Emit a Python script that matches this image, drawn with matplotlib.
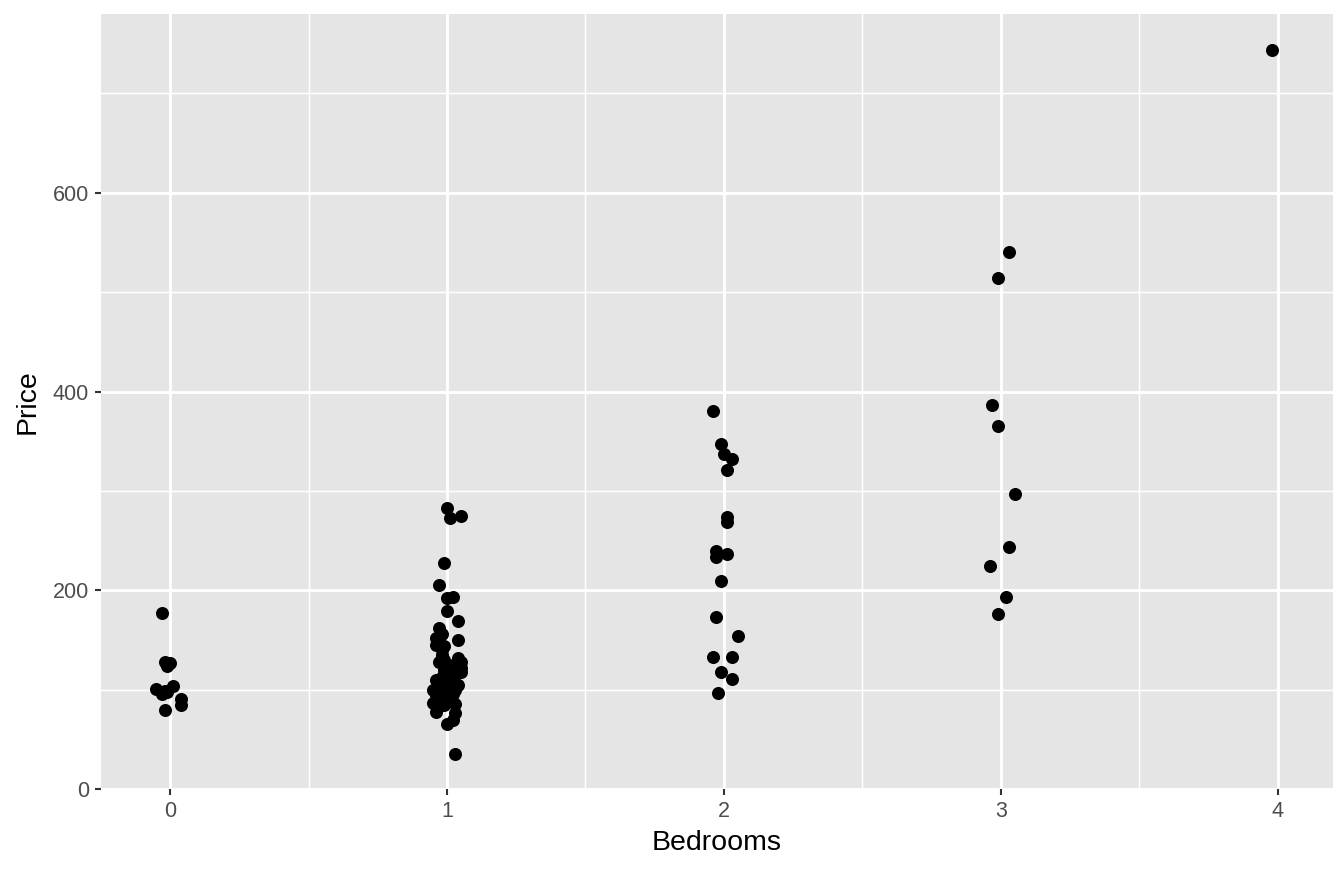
import matplotlib
matplotlib.use("Agg")
import matplotlib.pyplot as plt
import numpy as np

# bedrooms (with jitter as seen on the chart) and price
bed0_x = [-0.03, -0.02, 0.0, -0.01, -0.05, -0.02, -0.03, 0.01, 0.04, 0.04, -0.02, -0.01]
bed0_y = [177, 128, 127, 124, 101, 99, 96, 104, 91, 85, 80, 98]

bed1_x = [1.00, 1.01, 1.05, 0.99, 0.97, 1.00, 1.02, 1.04, 1.00, 0.97, 0.98, 0.96,
          0.96, 1.04, 0.99, 0.98, 0.99, 1.04, 1.05, 0.97, 1.05, 0.99, 1.01, 1.05,
          0.96, 1.04, 1.01, 0.95, 0.96, 1.01, 0.95, 0.99, 0.96, 1.03, 1.02, 1.00,
          1.03, 0.98, 1.00, 1.02, 0.99, 1.03, 0.97, 1.02, 0.98, 1.01, 0.97, 1.03,
          0.99, 1.02, 1.00, 0.98, 1.03]
bed1_y = [283, 273, 275, 227, 205, 192, 193, 169, 179, 162, 156, 152,
          145, 150, 144, 135, 130, 132, 128, 128, 122, 120, 116, 118,
          110, 105, 102, 100, 95, 92, 87, 85, 77, 76, 69, 65,
          35, 107, 97, 108, 89, 86, 103, 125, 113, 112, 84, 100,
          106, 96, 124, 140, 115]

bed2_x = [1.96, 1.99, 2.00, 2.03, 2.01, 2.01, 2.01, 1.97, 1.97, 2.01, 1.99, 1.97,
          1.96, 2.05, 2.03, 1.99, 2.03, 1.98]
bed2_y = [380, 347, 337, 332, 321, 274, 269, 240, 234, 237, 209, 173,
          133, 154, 133, 118, 111, 97]

bed3_x = [3.03, 2.99, 2.97, 2.99, 3.05, 3.03, 2.96, 3.02, 2.99]
bed3_y = [540, 514, 386, 365, 297, 244, 224, 193, 176]

bed4_x = [3.98]
bed4_y = [744]

bedrooms = np.array(bed0_x + bed1_x + bed2_x + bed3_x + bed4_x)
price = np.array(bed0_y + bed1_y + bed2_y + bed3_y + bed4_y)

plt.rcParams['font.family'] = ['Liberation Sans', 'DejaVu Sans']

fig = plt.figure(figsize=(13.44, 8.73), dpi=100)
ax = fig.add_axes([101 / 1344, 84 / 873, 1232 / 1344, 775 / 873])
ax.set_facecolor('#E5E5E5')

ax.set_xticks([0, 1, 2, 3, 4])
ax.set_xticks([0.5, 1.5, 2.5, 3.5], minor=True)
ax.set_yticks([0, 200, 400, 600])
ax.set_yticks([100, 300, 500, 700], minor=True)
ax.grid(which='major', color='white', linewidth=2.1)
ax.grid(which='minor', color='white', linewidth=1.05)
ax.set_axisbelow(True)

ax.scatter(bedrooms, price, s=88, color='black', linewidths=0, zorder=3)

ax.set_xlim(-0.25, 4.2)
ax.set_ylim(0, 780)

for s in ax.spines.values():
    s.set_visible(False)
ax.tick_params(which='major', length=4, width=1.5, color='#333333',
               labelcolor='#4D4D4D', labelsize=15.5, pad=4.5)
ax.tick_params(which='minor', length=0)

ax.set_xlabel('Bedrooms', fontsize=20.5, labelpad=6)
ax.set_ylabel('Price', fontsize=20.5, labelpad=9)

fig.savefig('out.png', dpi=100)
